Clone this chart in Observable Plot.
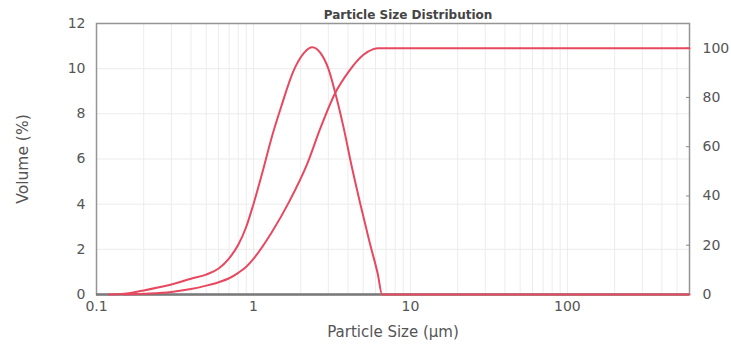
<!DOCTYPE html>
<html>
<head>
<meta charset="utf-8">
<script src="https://cdn.jsdelivr.net/npm/d3@7"></script>
<script src="https://cdn.jsdelivr.net/npm/@observablehq/plot@0.6"></script>
<style>
  html, body { margin: 0; padding: 0; background: #fff; }
</style>
</head>
<body>
<div id="chart"></div>
<script>
// Particle size (µm) and volume density (%)
const densitySize = [0.12, 0.15, 0.2, 0.25, 0.32, 0.4, 0.5, 0.6, 0.7, 0.8, 0.9, 1.0, 1.15, 1.3, 1.5, 1.8, 2.1, 2.37, 2.67, 3.0, 3.3, 3.75, 4.25, 4.8, 5.5, 6.2, 6.6, 600];
const densityVolume = [0, 0.03, 0.18, 0.32, 0.5, 0.7, 0.88, 1.15, 1.6, 2.2, 3.0, 4.0, 5.5, 6.9, 8.3, 9.9, 10.7, 10.95, 10.7, 10.0, 9.0, 7.4, 5.6, 4.0, 2.3, 0.9, 0, 0];

// Cumulative undersize (%)
const cumSize = [0.15, 0.2, 0.3, 0.4, 0.5, 0.6, 0.7, 0.8, 0.9, 1.0, 1.3, 1.7, 2.2, 2.67, 3.3, 4.1, 5.0, 5.8, 6.2, 600];
const cumVolume = [0, 0.3, 1.0, 2.2, 3.6, 5.0, 6.6, 8.8, 11.3, 14.5, 25, 38, 53, 67.5, 81.5, 91, 97.2, 99.6, 100, 100];

const leftTicks = [0, 2, 4, 6, 8, 10, 12];
const rightTicks = [0, 20, 40, 60, 80, 100];
const xTicks = [0.1, 1, 10, 100];
const xDomain = [0.1, 600];
const leftMax = 12;
const rightMax = 110;

const title = "Particle Size Distribution";
const xLabel = "Particle Size (µm)";
const yLabel = "Volume (%)";

const density = densitySize.map((s, i) => ({size: s, v: densityVolume[i]}));
const cumulative = cumSize.map((s, i) => ({size: s, v: cumVolume[i] * leftMax / rightMax}));

// minor log grid
const xGrid = [];
for (let e = -1; e <= 2; e++) {
  for (let m = 1; m <= 9; m++) {
    const v = m * Math.pow(10, e);
    if (v >= xDomain[0] && v <= xDomain[1]) xGrid.push(+v.toPrecision(3));
  }
}

const red = "#e8485f";
const textColor = "#555";
const font = "'DejaVu Sans', Verdana, sans-serif";

const chart = Plot.plot({
  width: 731,
  height: 345,
  marginLeft: 96,
  marginRight: 42,
  marginTop: 23,
  marginBottom: 51,
  style: {fontFamily: font, fontSize: "14px", color: textColor, background: "#fff"},
  x: {type: "log", domain: xDomain},
  y: {domain: [0, leftMax]},
  marks: [
    Plot.gridX(xGrid, {stroke: "#ececec", strokeOpacity: 1, strokeWidth: 1}),
    Plot.gridY([2, 4, 6, 8, 10], {stroke: "#ebebeb", strokeOpacity: 1, strokeWidth: 1}),
    Plot.frame({stroke: "#959595", strokeWidth: 1.5}),
    Plot.ruleY([0], {stroke: "#7a7a7a", strokeWidth: 2.5}),
    Plot.axisX(xTicks, {tickSize: 0, tickPadding: 7, tickFormat: d => String(d), fontSize: 14, label: null}),
    Plot.axisX({ticks: [], tickSize: 0, label: xLabel, labelAnchor: "center", labelArrow: "none", labelOffset: 42, fontSize: 15}),
    Plot.axisY(leftTicks, {anchor: "left", tickSize: 0, tickPadding: 11, fontSize: 14, label: null}),
    Plot.axisY({ticks: [], anchor: "left", tickSize: 0, label: yLabel, labelAnchor: "center", labelArrow: "none", labelOffset: 80, fontSize: 15.5}),
    Plot.axisY(rightTicks.map(v => v * leftMax / rightMax), {anchor: "right", tickSize: -4, tickPadding: 17, stroke: "#8a8a8a", fontSize: 14, tickFormat: d => String(Math.round(d * rightMax / leftMax)), label: null}),
    Plot.line(cumulative, {x: "size", y: "v", stroke: red, strokeWidth: 2, curve: "monotone-x"}),
    Plot.line(density, {x: "size", y: "v", stroke: red, strokeWidth: 2, curve: "monotone-x"}),
    Plot.text([title], {frameAnchor: "top", lineAnchor: "middle", dy: -8, dx: 15, fontWeight: "bold", fontSize: 12, fill: "#444", fontFamily: font})
  ]
});
document.getElementById("chart").appendChild(chart);
</script>
</body>
</html>
